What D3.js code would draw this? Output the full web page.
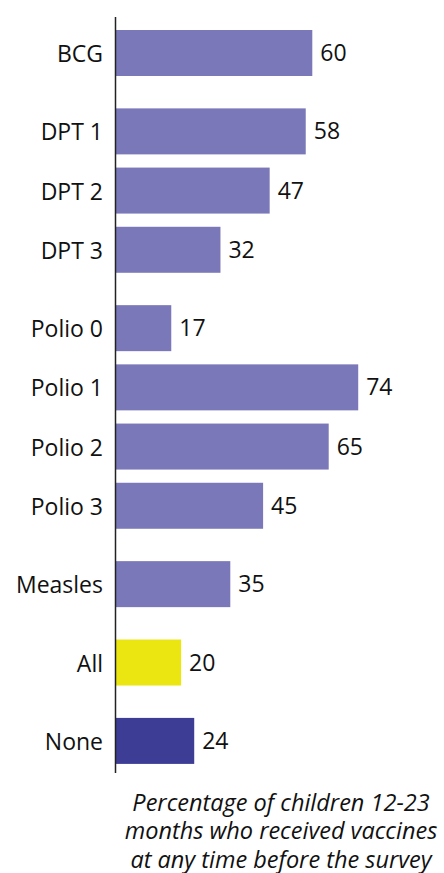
<!DOCTYPE html>
<html>
<head>
<meta charset="utf-8">
<script src="https://cdn.jsdelivr.net/npm/d3@7"></script>
<style>
  body { margin: 0; background: #fff; }
  svg text { font-family: "Open Sans", "Noto Sans", sans-serif; fill: #111; }
</style>
</head>
<body>
<svg id="chart" width="444" height="873"></svg>
<script>
const categories = ["BCG", "DPT 1", "DPT 2", "DPT 3", "Polio 0", "Polio 1", "Polio 2", "Polio 3", "Measles", "All", "None"];
const groups = [0, 1, 1, 1, 2, 2, 2, 2, 3, 4, 5];
const values = [60, 58, 47, 32, 17, 74, 65, 45, 35, 20, 24];
const kinds = ["vaccine", "vaccine", "vaccine", "vaccine", "vaccine", "vaccine", "vaccine", "vaccine", "vaccine", "all", "none"];
const captionLines = ["Percentage of children 12-23", "months who received vaccines", "at any time before the survey"];

const GROUP_GAP = 0.324;
const BAR_H = 46;

const data = categories.map((c, i) => ({
  name: c, value: values[i], kind: kinds[i], slot: i + groups[i] * GROUP_GAP
}));

const x = d3.scaleLinear().domain([0, 100]).range([115.5, 443.5]);
const y = d3.scaleLinear().domain([0, 1]).range([30, 89.2]);
const color = d3.scaleOrdinal()
  .domain(["vaccine", "all", "none"])
  .range(["#7a78b8", "#ebe612", "#3d3d96"]);

const svg = d3.select("#chart");

svg.selectAll(".bar")
  .data(data)
  .enter()
  .append("rect")
  .attr("class", "bar")
  .attr("x", x(0))
  .attr("y", d => y(d.slot))
  .attr("width", d => x(d.value) - x(0))
  .attr("height", BAR_H)
  .attr("fill", d => color(d.kind));

svg.selectAll(".value")
  .data(data)
  .enter()
  .append("text")
  .attr("class", "value")
  .attr("x", d => x(d.value) + 8)
  .attr("y", d => y(d.slot) + BAR_H / 2 - 1)
  .attr("dominant-baseline", "central")
  .attr("font-size", 23)
  .text(d => d.value);

svg.selectAll(".label")
  .data(data)
  .enter()
  .append("text")
  .attr("class", "label")
  .attr("x", 103)
  .attr("y", d => y(d.slot) + BAR_H / 2)
  .attr("text-anchor", "end")
  .attr("dominant-baseline", "central")
  .attr("font-size", 23)
  .text(d => d.name);

// axis line
svg.append("line")
  .attr("x1", x(0)).attr("x2", x(0))
  .attr("y1", 17).attr("y2", 773)
  .attr("stroke", "#222")
  .attr("stroke-width", 1.5);

svg.append("text")
  .attr("text-anchor", "middle")
  .attr("font-size", 23.5)
  .attr("font-style", "italic")
  .selectAll("tspan")
  .data(captionLines)
  .enter()
  .append("tspan")
  .attr("x", 281)
  .attr("y", (d, i) => 811 + i * 28.3)
  .text(d => d);
</script>
</body>
</html>
